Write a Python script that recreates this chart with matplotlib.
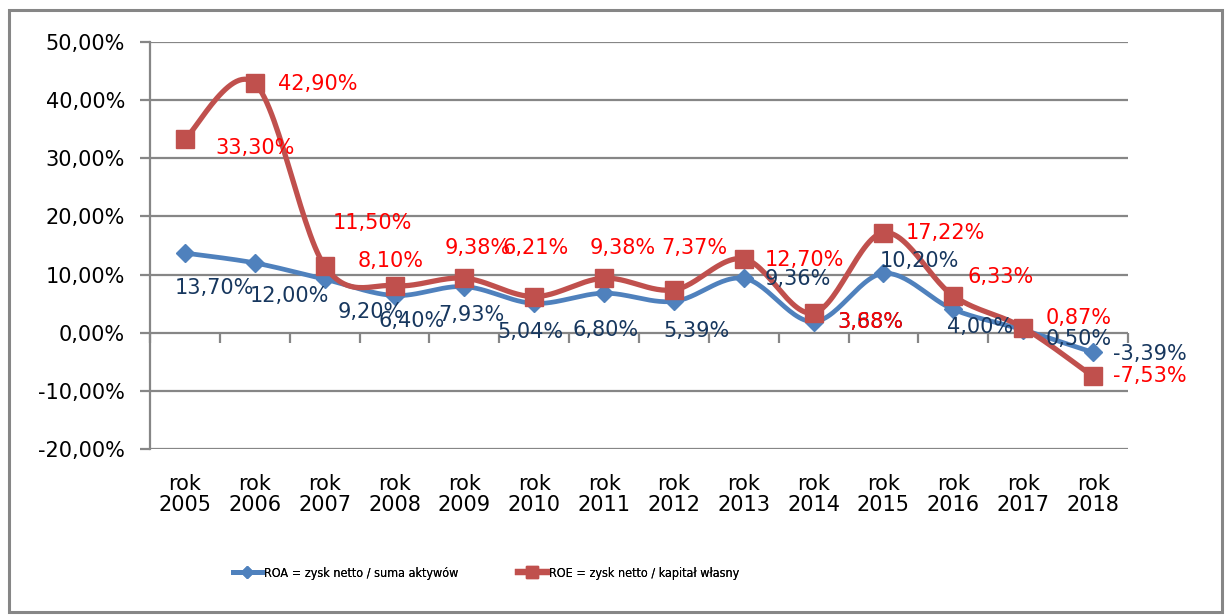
import numpy as np
import matplotlib
matplotlib.use("Agg")
import matplotlib.pyplot as plt
from matplotlib.lines import Line2D
from matplotlib.patches import Rectangle

# ---------------- data ----------------
years = ["2005", "2006", "2007", "2008", "2009", "2010", "2011",
         "2012", "2013", "2014", "2015", "2016", "2017", "2018"]
categories = ["rok\n" + y for y in years]
roa = [13.70, 12.00, 9.20, 6.40, 7.93, 5.04, 6.80, 5.39, 9.36, 1.90, 10.20, 4.00, 0.50, -3.39]
roe = [33.30, 42.90, 11.50, 8.10, 9.38, 6.21, 9.38, 7.37, 12.70, 3.40, 17.22, 6.33, 0.87, -7.53]
roa_labels = ["13,70%", "12,00%", "9,20%", "6,40%", "7,93%", "5,04%", "6,80%",
              "5,39%", "9,36%", "3,68%", "10,20%", "4,00%", "0,50%", "-3,39%"]
roe_labels = ["33,30%", "42,90%", "11,50%", "8,10%", "9,38%", "6,21%", "9,38%",
              "7,37%", "12,70%", "3,88%", "17,22%", "6,33%", "0,87%", "-7,53%"]
yticks = [50, 40, 30, 20, 10, 0, -10, -20]
roa_name = "ROA = zysk netto / suma aktywów"
roe_name = "ROE = zysk netto / kapitał własny"

# label offsets in pixels (left edge, vertical centre) relative to point
roa_off = [(-10, -35), (-5, -33), (13, -33), (-16, -25), (-26, -28), (-37, -29), (-32, -37),
           (-11, -30), (21, -1), (24, 0), (-4, 12), (-6, -18), (22, -9), (20, -2)]
roe_off = [(30, -9), (23, -1), (8, 43), (-37, 25), (-20, 30), (-32, 49), (-14, 30),
           (-13, 42), (21, -1), (24, -9), (22, 0), (14, 19), (22, 10), (20, 0)]

# ---------------- style ----------------
plt.rcParams['font.family'] = ['DejaVu Sans']
W, H, DPI = 1230, 615, 100
fig = plt.figure(figsize=(W / DPI, H / DPI), dpi=DPI)
L, R, T, B = 150, 1128, 42, 449
ax = fig.add_axes([L / W, 1 - B / H, (R - L) / W, (B - T) / H])

n = len(years)
x = np.arange(n)
ax.set_xlim(-0.5, n - 0.5)
ax.set_ylim(-20, 50)

grey = "#868686"
blue = "#4F81BD"
red = "#C0504D"
blue_txt = "#17375E"
red_txt = "#FF0000"

px_x = (R - L) / n
px_y = (B - T) / 70.0


def smooth(xs, ys, steps=30):
    P = np.column_stack([np.asarray(xs, float) * px_x, np.asarray(ys, float) * px_y])
    out = []
    m = len(P)
    for i in range(m - 1):
        p0 = P[i - 1] if i > 0 else P[i]
        p1 = P[i]
        p2 = P[i + 1]
        p3 = P[i + 2] if i + 2 < m else P[i + 1]
        c1 = p1 + (p2 - p0) / 6.0
        c2 = p2 - (p3 - p1) / 6.0
        t = np.linspace(0, 1, steps)[:, None]
        seg = ((1 - t) ** 3) * p1 + 3 * ((1 - t) ** 2) * t * c1 + 3 * (1 - t) * t ** 2 * c2 + t ** 3 * p2
        out.append(seg if i == 0 else seg[1:])
    S = np.vstack(out)
    return S[:, 0] / px_x, S[:, 1] / px_y


for v in yticks:
    ax.axhline(v, color=grey, lw=1.6, zorder=1)

# tick marks on the zero line between categories
ax.plot(np.arange(n + 1) - 0.5, np.zeros(n + 1), ls='none', marker=3, ms=7,
        mew=1.6, color=grey, zorder=1, clip_on=False)

sx, sy = smooth(x, roa)
ax.plot(sx, sy, color=blue, lw=3.4, zorder=3, solid_capstyle='round')
ax.plot(x, roa, ls='none', marker='D', ms=9, color=blue, zorder=3)

sx, sy = smooth(x, roe)
ax.plot(sx, sy, color=red, lw=3.8, zorder=4, solid_capstyle='round')
ax.plot(x, roe, ls='none', marker='s', ms=13, color=red, zorder=4)

for i in range(n):
    ax.annotate(roa_labels[i], (x[i], roa[i]), xytext=roa_off[i], textcoords='offset pixels',
                ha='left', va='center', fontsize=15, color=blue_txt, zorder=6)
for i in range(n):
    ax.annotate(roe_labels[i], (x[i], roe[i]), xytext=roe_off[i], textcoords='offset pixels',
                ha='left', va='center', fontsize=15, color=red_txt, zorder=7)

ax.set_yticks(yticks)
ax.set_yticklabels([f"{v:.2f}%".replace(".", ",") for v in yticks], fontsize=15)
ax.set_xticks(x)
ax.set_xticklabels(categories, fontsize=15, linespacing=1.05)
ax.tick_params(axis='x', length=0, pad=18)
ax.tick_params(axis='y', length=7, width=1.6, color=grey, pad=11)
for s in ['top', 'right', 'bottom']:
    ax.spines[s].set_visible(False)
ax.spines['left'].set_color(grey)
ax.spines['left'].set_linewidth(1.6)
ax.set_facecolor('none')

# outer border
fig.patches.append(Rectangle((9 / W, 1 - 612 / H), (1222 - 9) / W, (612 - 10) / H,
                             transform=fig.transFigure, fill=False, ec=grey, lw=2.2))

# legends
h1 = Line2D([], [], color=blue, lw=3.5, marker='D', ms=6)
h2 = Line2D([], [], color=red, lw=4.5, marker='s', ms=9)
for h, name, xl in [(h1, roa_name, 233), (h2, roe_name, 518)]:
    lg = fig.legend([h], [name], loc='center left', bbox_to_anchor=(xl / W, 1 - 573 / H),
                    frameon=False, borderpad=0, borderaxespad=0, handlelength=2.3,
                    handletextpad=0.2, prop={'family': 'DejaVu Sans', 'stretch': 'condensed', 'size': 9})
    fig.add_artist(lg)

fig.savefig("out.png", dpi=DPI)
